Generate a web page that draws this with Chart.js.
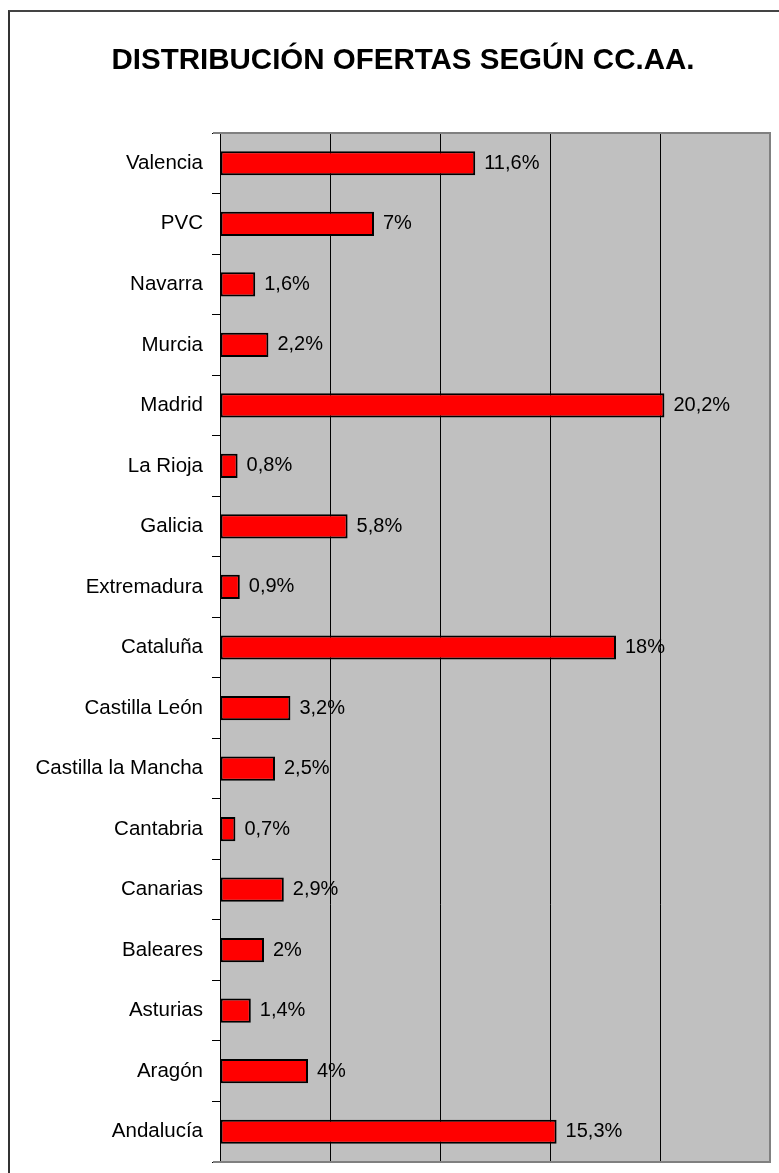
<!DOCTYPE html>
<html>
<head>
<meta charset="utf-8">
<script src="https://cdn.jsdelivr.net/npm/chart.js@4.4.1/dist/chart.umd.min.js"></script>
<style>
  html, body { margin: 0; padding: 0; background: #fff; overflow: hidden; }
  #frame { position: absolute; left: 8px; top: 10px; width: 900px; height: 1300px; border-left: 2px solid #333; border-top: 2px solid #444; }
  #chart { position: absolute; left: 0; top: 0; }
</style>
</head>
<body>
<div id="frame"></div>
<canvas id="chart" width="779" height="1173"></canvas>
<script>
  const FONT = "'Liberation Sans', Arial, sans-serif";

  // Data (Excel order: first category at the bottom)
  const regions = ["Andalucía", "Aragón", "Asturias", "Baleares", "Canarias", "Cantabria", "Castilla la Mancha", "Castilla León", "Cataluña", "Extremadura", "Galicia", "La Rioja", "Madrid", "Murcia", "Navarra", "PVC", "Valencia"];
  const shares = [15.3, 4, 1.4, 2, 2.9, 0.7, 2.5, 3.2, 18, 0.9, 5.8, 0.8, 20.2, 2.2, 1.6, 7, 11.6];
  const xTicks = [0, 5, 10, 15, 20, 25];

  const fmt = v => String(v).replace('.', ',') + '%';

  // grey plot area + its border
  const plotArea = {
    id: 'plotArea',
    beforeDraw(chart) {
      const { ctx, chartArea: a } = chart;
      ctx.save();
      ctx.fillStyle = '#c0c0c0';
      ctx.fillRect(a.left, a.top, a.right - a.left, a.bottom - a.top);
      ctx.restore();
    },
    beforeDatasetsDraw(chart) {
      const { ctx, chartArea: a } = chart;
      ctx.save();
      ctx.strokeStyle = '#808080';
      ctx.lineWidth = 2;
      ctx.beginPath();
      ctx.moveTo(a.left - 7, a.top);
      ctx.lineTo(a.right, a.top);
      ctx.lineTo(a.right, a.bottom);
      ctx.lineTo(a.left - 7, a.bottom);
      ctx.stroke();
      ctx.restore();
    }
  };

  const valueLabels = {
    id: 'valueLabels',
    afterDatasetsDraw(chart) {
      const { ctx } = chart;
      ctx.save();
      ctx.font = '20px ' + FONT;
      ctx.fillStyle = '#000';
      ctx.textAlign = 'left';
      ctx.textBaseline = 'middle';
      chart.getDatasetMeta(0).data.forEach((bar, i) => {
        ctx.fillText(fmt(shares[i]), bar.x + 9, bar.y);
      });
      ctx.restore();
    }
  };

  new Chart(document.getElementById('chart'), {
    type: 'bar',
    data: {
      labels: regions,
      datasets: [{
        data: shares,
        backgroundColor: '#ff0000',
        borderColor: '#000',
        borderWidth: 2,
        borderSkipped: false,
        categoryPercentage: 1,
        barPercentage: 0.4
      }]
    },
    options: {
      indexAxis: 'y',
      responsive: false,
      animation: false,
      layout: { padding: { left: 36, right: 9, top: 0, bottom: 11 } },
      plugins: {
        legend: { display: false },
        tooltip: { enabled: false },
        title: {
          display: true,
          text: 'DISTRIBUCIÓN OFERTAS SEGÚN CC.AA.',
          color: '#000',
          font: { family: FONT, size: 29.5, weight: 'bold' },
          padding: { top: 43, bottom: 54.6 }
        }
      },
      scales: {
        x: {
          min: xTicks[0],
          max: xTicks[xTicks.length - 1],
          ticks: { display: false, stepSize: xTicks[1] - xTicks[0] },
          grid: { color: '#000', lineWidth: 1, drawTicks: false },
          border: { display: false },
          afterFit(s) { s.height = 0; s.paddingLeft = 0; s.paddingRight = 0; }
        },
        y: {
          reverse: true,
          ticks: { color: '#000', font: { family: FONT, size: 20.5 }, padding: 9, autoSkip: false },
          grid: { drawOnChartArea: false, drawTicks: true, tickLength: 8, tickColor: '#000', offset: true },
          border: { display: true, color: '#000', width: 1 },
          afterFit(s) { s.width = 184; s.paddingTop = 0; s.paddingBottom = 0; }
        }
      }
    },
    plugins: [plotArea, valueLabels]
  });
</script>
</body>
</html>
